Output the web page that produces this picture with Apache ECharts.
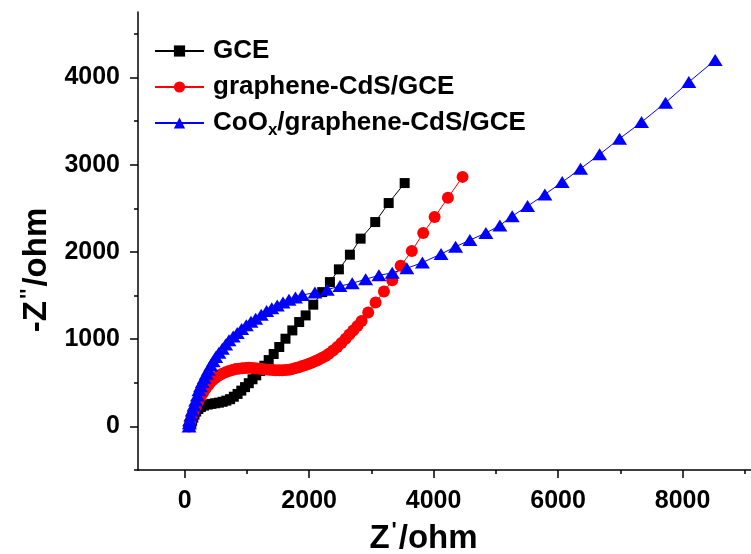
<!DOCTYPE html>
<html>
<head>
<meta charset="utf-8">
<script src="https://cdn.jsdelivr.net/npm/echarts@6/dist/echarts.min.js"></script>
<style>html,body{margin:0;padding:0;background:#fff}#c{width:751px;height:554px}</style>
</head>
<body>
<div id="c"></div>
<script>
var seriesNames = ['GCE', 'graphene-CdS/GCE', 'CoOx/graphene-CdS/GCE'];
var xMajorTicks = [0, 2000, 4000, 6000, 8000];
var xMinorTicks = [1000, 3000, 5000, 7000, 9000];
var yMajorTicks = [0, 1000, 2000, 3000, 4000];
var yMinorTicks = [-500, 500, 1500, 2500, 3500, 4500];

var gceData = [[90,0],[105,30],[120,65],[138,100],[158,135],[185,170],[220,200],[260,222],[310,238],[370,250],[430,258],[490,265],[550,272],[610,282],[670,295],[730,312],[790,340],[850,372],[910,410],[970,450],[1030,495],[1090,540],[1150,585],[1210,635],[1280,695],[1350,760],[1430,830],[1520,910],[1620,1005],[1730,1100],[1840,1196],[1944,1272],[2066,1395],[2210,1539],[2334,1654],[2478,1800],[2655,1968],[2827,2152],[3062,2342],[3278,2560],[3535,2789]];

var grapheneData = [[69,0],[90,50],[112,107],[140,165],[177,221],[215,280],[257,336],[297,385],[337,432],[378,472],[418,508],[458,535],[498,558],[550,583],[604,604],[658,620],[712,634],[765,647],[819,657],[872,662],[925,665],[980,670],[1033,673],[1087,670],[1141,665],[1194,661],[1247,657],[1300,653],[1354,650],[1408,646],[1462,642],[1515,642],[1568,642],[1622,645],[1676,650],[1730,658],[1783,668],[1836,679],[1889,691],[1943,704],[1997,719],[2050,733],[2104,749],[2157,767],[2211,787],[2265,808],[2318,833],[2385,870],[2452,909],[2519,955],[2586,1005],[2647,1052],[2709,1100],[2776,1152],[2843,1207],[2949,1305],[3068,1420],[3202,1545],[3335,1674],[3470,1840],[3650,2010],[3833,2216],[4016,2399],[4230,2621],[4465,2860]];

var cooxData = [[70,0],[75,35],[80,69],[100,125],[122,183],[150,240],[177,298],[205,355],[230,413],[255,460],[283,508],[315,556],[347,604],[380,650],[418,699],[458,746],[498,794],[550,843],[604,891],[658,938],[712,986],[780,1030],[845,1069],[915,1115],[990,1158],[1065,1198],[1141,1235],[1230,1280],[1317,1322],[1400,1355],[1488,1387],[1580,1420],[1676,1452],[1780,1478],[1889,1505],[2093,1534],[2291,1567],[2495,1608],[2692,1640],[2908,1687],[3121,1731],[3335,1760],[3570,1812],[3820,1878],[4120,1976],[4353,2059],[4583,2136],[4840,2216],[5065,2304],[5263,2410],[5510,2525],[5788,2659],[6066,2800],[6361,2954],[6667,3118],[6988,3298],[7341,3488],[7727,3711],[8101,3947],[8525,4200]];

var FONT = '"Liberation Sans", Arial, sans-serif';
var chart = echarts.init(document.getElementById('c'), null, {renderer: 'canvas'});
var labelStyle = {color: '#000', fontSize: 25, fontWeight: 'bold', fontFamily: FONT, formatter: function (v) { return String(v); }};
var tickLine = {color: '#000', width: 1.5};

function tickAxis(min, max, pos, vals, len) {
  return {
    type: 'value', min: min, max: max, position: pos,
    axisLine: {show: false, onZero: false},
    axisTick: {show: true, inside: false, length: len, lineStyle: tickLine, customValues: vals},
    axisLabel: {show: false, customValues: vals},
    splitLine: {show: false}
  };
}

chart.setOption({
  animation: false,
  backgroundColor: '#fff',
  grid: {left: 138, right: 0, top: 12, bottom: 84, containLabel: false, outerBoundsMode: 'none'},
  legend: {
    orient: 'vertical', left: 149, top: 33, itemWidth: 49, itemHeight: 14, itemGap: 10,
    data: seriesNames,
    formatter: function (n) { return n === 'CoOx/graphene-CdS/GCE' ? 'CoO{sub|x}/graphene-CdS/GCE' : n; },
    textStyle: {color: '#000', fontSize: 26, fontWeight: 'bold', fontFamily: FONT, padding: [0, 0, 0, 4],
      rich: {sub: {fontSize: 17, fontWeight: 'bold', fontFamily: FONT, color: '#000', padding: [14, 0, 0, 0]}}}
  },
  xAxis: [{
    type: 'value', min: -750, max: 9100, position: 'bottom',
    axisLine: {show: true, onZero: false, lineStyle: {color: '#000', width: 1.5}},
    axisTick: {show: false},
    axisLabel: Object.assign({margin: 19, customValues: xMajorTicks}, labelStyle),
    splitLine: {show: false},
    name: '{m|Z}{s|\'}{m|/ohm}', nameLocation: 'middle', nameGap: 50,
    nameTextStyle: {padding: [0, 42, 0, 0], rich: {
      m: {fontSize: 33, fontWeight: 'bold', fontFamily: FONT, color: '#000'},
      s: {fontSize: 22, fontWeight: 'bold', fontFamily: FONT, color: '#000', padding: [0, 2, 16, 2]}
    }}
  }, tickAxis(-750, 9100, 'bottom', xMajorTicks, 8), tickAxis(-750, 9100, 'bottom', xMinorTicks, 4)],
  yAxis: [{
    type: 'value', min: -500, max: 4750, position: 'left',
    axisLine: {show: true, onZero: false, lineStyle: {color: '#000', width: 1.5}},
    axisTick: {show: false},
    axisLabel: Object.assign({margin: 18, customValues: yMajorTicks}, labelStyle),
    splitLine: {show: false},
    name: '{m|-Z}{s|\'\'}{m|/ohm}', nameLocation: 'middle', nameRotate: 90, nameGap: 68,
    nameTextStyle: {padding: [0, 58, 0, 0], rich: {
      m: {fontSize: 33, fontWeight: 'bold', fontFamily: FONT, color: '#000'},
      s: {fontSize: 22, fontWeight: 'bold', fontFamily: FONT, color: '#000', padding: [0, 2, 16, 2]}
    }}
  }, tickAxis(-500, 4750, 'left', yMajorTicks, 8), tickAxis(-500, 4750, 'left', yMinorTicks, 4)],
  series: [{
    name: seriesNames[0], type: 'line', data: gceData, xAxisIndex: 0, yAxisIndex: 0,
    symbol: 'rect', symbolSize: 10, showAllSymbol: true,
    lineStyle: {color: '#000', width: 1}, itemStyle: {color: '#000'}
  }, {
    name: seriesNames[1], type: 'line', data: grapheneData, xAxisIndex: 0, yAxisIndex: 0,
    symbol: 'circle', symbolSize: 12, showAllSymbol: true,
    lineStyle: {color: '#ff0000', width: 1}, itemStyle: {color: '#ff0000'}
  }, {
    name: seriesNames[2], type: 'line', data: cooxData, xAxisIndex: 0, yAxisIndex: 0,
    symbol: 'triangle', symbolSize: [15, 12], showAllSymbol: true,
    lineStyle: {color: '#0000ff', width: 1}, itemStyle: {color: '#0000ff'}
  }]
});
</script>
</body>
</html>
